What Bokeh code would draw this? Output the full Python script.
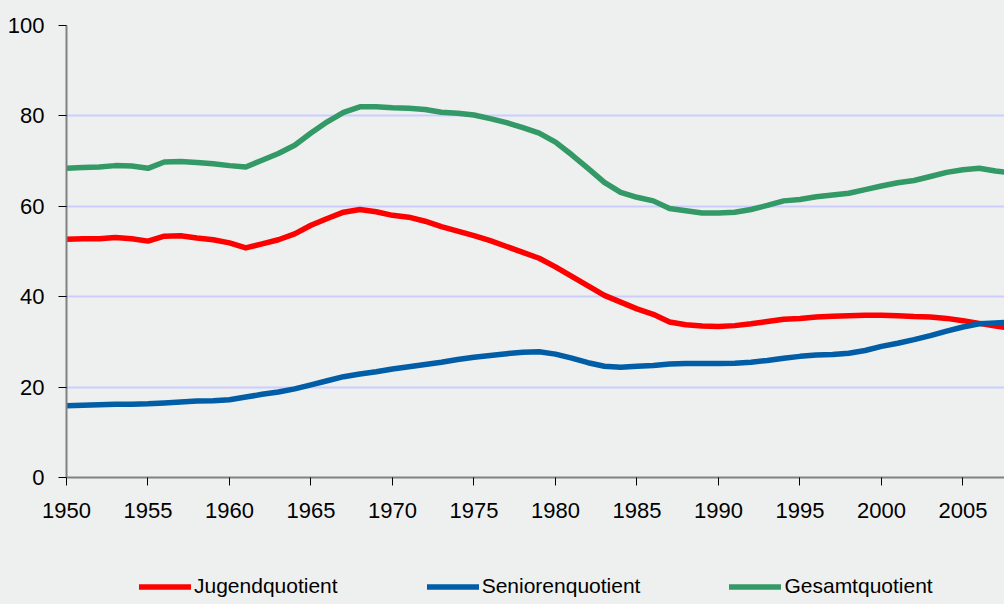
from bokeh.plotting import figure
from bokeh.models import Range1d, Legend, LegendItem, FixedTicker, ColumnDataSource
from bokeh.layouts import column
from bokeh.embed import file_html
from bokeh.resources import INLINE

years = list(range(1950, 2009))
jugend = [52.7, 52.8, 52.8, 53.1, 52.8, 52.3, 53.4, 53.5, 53.0, 52.6,
          51.9, 50.8, 51.7, 52.6, 53.9, 55.8, 57.3, 58.7, 59.3, 58.8,
          58.0, 57.6, 56.7, 55.5, 54.5, 53.5, 52.4, 51.1, 49.8, 48.5,
          46.6, 44.5, 42.4, 40.3, 38.8, 37.3, 36.1, 34.4, 33.8, 33.5,
          33.4, 33.6, 34.0, 34.5, 35.0, 35.2, 35.5, 35.7, 35.8, 35.9,
          35.9, 35.8, 35.6, 35.5, 35.2, 34.7, 34.1, 33.5, 33.0]
senioren = [15.9, 16.0, 16.1, 16.2, 16.2, 16.3, 16.5, 16.7, 16.9, 17.0,
            17.2, 17.8, 18.4, 18.9, 19.6, 20.5, 21.4, 22.3, 22.9, 23.4,
            24.0, 24.5, 25.0, 25.5, 26.1, 26.6, 27.0, 27.4, 27.7, 27.8,
            27.3, 26.4, 25.4, 24.6, 24.4, 24.6, 24.8, 25.1, 25.2, 25.2,
            25.2, 25.3, 25.5, 25.9, 26.4, 26.8, 27.1, 27.2, 27.5, 28.1,
            29.0, 29.7, 30.5, 31.4, 32.4, 33.3, 34.0, 34.2, 34.4]
gesamt = [68.4, 68.6, 68.7, 69.0, 68.9, 68.4, 69.8, 69.9, 69.7, 69.4,
          69.0, 68.7, 70.2, 71.7, 73.5, 76.2, 78.7, 80.8, 82.0, 82.0,
          81.8, 81.7, 81.4, 80.8, 80.6, 80.2, 79.4, 78.5, 77.4, 76.2,
          74.2, 71.4, 68.4, 65.3, 63.1, 62.0, 61.2, 59.5, 59.0, 58.5,
          58.5, 58.7, 59.3, 60.2, 61.2, 61.5, 62.1, 62.5, 62.9, 63.7,
          64.5, 65.2, 65.7, 66.6, 67.5, 68.1, 68.4, 67.8, 67.4]
series_names = ["Jugendquotient", "Seniorenquotient", "Gesamtquotient"]
series_colors = ["#FF0000", "#005DA6", "#339966"]
x_ticks = [1950, 1955, 1960, 1965, 1970, 1975, 1980, 1985, 1990, 1995, 2000, 2005]
y_ticks = [0, 20, 40, 60, 80, 100]

BG = "#EEF0EF"
FONT = "Liberation Sans"

p = figure(width=1004, height=540, output_backend="svg", toolbar_location=None,
           x_range=Range1d(1950, 2007.55), y_range=Range1d(0, 100),
           min_border_left=66, min_border_right=0, min_border_top=25, min_border_bottom=63)
p.background_fill_color = BG
p.border_fill_color = BG
p.outline_line_color = None

p.xgrid.grid_line_color = None
p.ygrid.grid_line_color = "#CCCCFF"
p.ygrid.grid_line_width = 2
p.ygrid.ticker = FixedTicker(ticks=[20, 40, 60, 80, 100])

for ax in (p.xaxis[0], p.yaxis[0]):
    ax.axis_line_color = "#808080"
    ax.axis_line_width = 2
    ax.major_tick_line_color = "#000000"
    ax.major_tick_line_width = 1
    ax.major_tick_out = 8
    ax.major_tick_in = 0
    ax.minor_tick_line_color = None
    ax.major_label_text_font = FONT
    ax.major_label_text_font_size = "22px"
    ax.major_label_text_color = "#000000"

p.xaxis.major_label_standoff = 17
p.yaxis.major_label_standoff = 14
p.xaxis.ticker = FixedTicker(ticks=x_ticks)
p.yaxis.ticker = FixedTicker(ticks=y_ticks)

src = ColumnDataSource(dict(year=years, j=jugend, s=senioren, g=gesamt))
for col, color in zip(["j", "s", "g"], series_colors):
    p.line("year", col, source=src, line_color=color, line_width=5.5, line_join="round")

# legend strip below the chart
lg = figure(width=1004, height=64, output_backend="svg", toolbar_location=None,
            x_range=Range1d(0, 1), y_range=Range1d(0, 1),
            x_axis_location=None, y_axis_location=None,
            min_border_left=0, min_border_right=0, min_border_top=0, min_border_bottom=0)
lg.background_fill_color = BG
lg.border_fill_color = BG
lg.outline_line_color = None
lg.grid.visible = False
hidden = ColumnDataSource(dict(x=[-5, -4], y=[-5, -5]))
items = []
for name, color in zip(series_names, series_colors):
    r = lg.line("x", "y", source=hidden, line_color=color, line_width=5.5, line_cap="round")
    items.append(LegendItem(label=name, renderers=[r]))
legend = Legend(items=items, orientation="horizontal", location=(73, 6),
                glyph_width=52, glyph_height=21, label_height=21, label_standoff=3,
                spacing=89, padding=0, margin=0, border_line_color=None,
                background_fill_alpha=0, label_text_font=FONT,
                label_text_font_size="21px", label_text_color="#000000")
lg.add_layout(legend, "center")

layout = column(p, lg, spacing=0)
html = file_html(layout, INLINE)
html = html.replace("<head>", "<head><style>body{background:#EEF0EF;}</style>", 1)
open("out.html", "w").write(html)
